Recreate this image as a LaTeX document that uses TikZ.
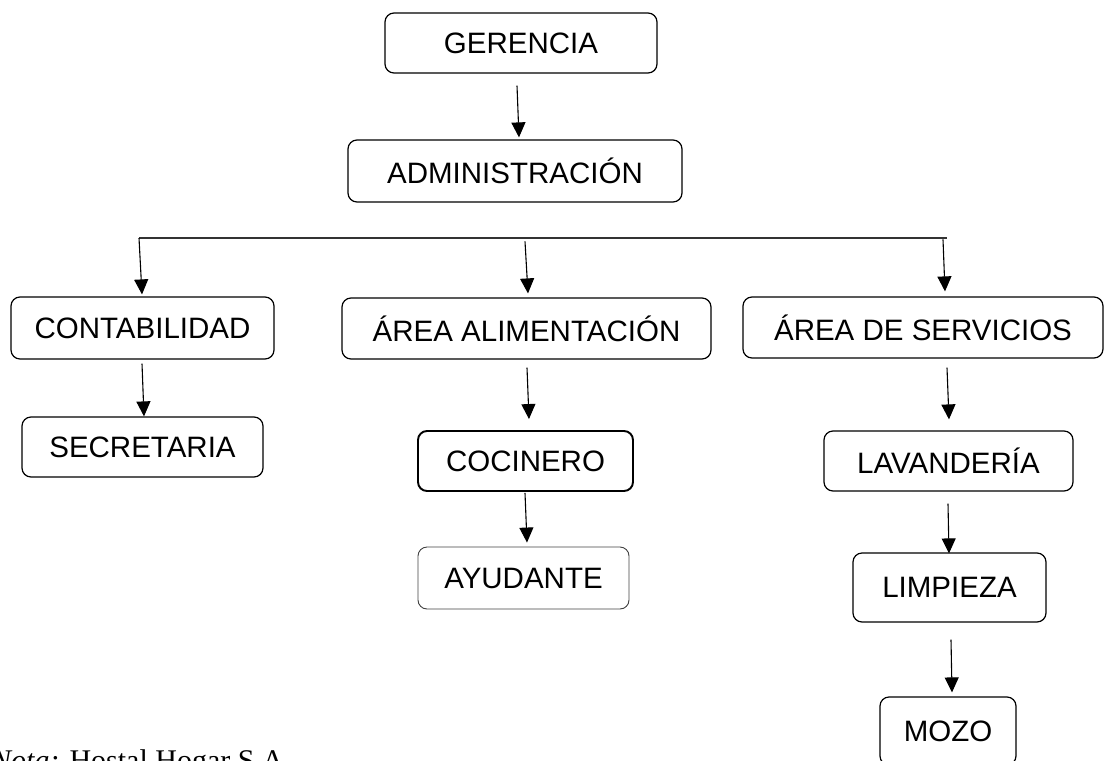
\documentclass[tikz,border=0pt]{standalone}
\usepackage{fontspec}
\setmainfont{Liberation Sans}
\newfontfamily\notafont{Liberation Serif}
\usetikzlibrary{arrows.meta,calc}
\begin{document}
\begin{tikzpicture}[x=1pt,y=-1pt,
  box/.style={draw=black, line width=1.2pt, rounded corners=9pt, inner sep=0pt,
    font=\fontsize{29.5}{35}\selectfont},
  thickbox/.style={box, line width=1.9pt},
  thinbox/.style={box, draw=black!75, line width=0.9pt},
  arr/.style={line width=1.1pt, -{Triangle[width=14pt,length=15pt]}},
  hline/.style={line width=1.4pt, draw=black!80}]
\useasboundingbox (0,0) rectangle (1104,761);
% nodes
\node[box, minimum width=272pt, minimum height=60pt] (ger) at (521,43) {GERENCIA};
\node[box, minimum width=334pt, minimum height=62pt] (adm) at (515,171) {ADMINISTRACIÓN};
\node[box, minimum width=263pt, minimum height=62pt] (cont) at (142.5,328) {CONTABILIDAD};
\node[box, minimum width=369pt, minimum height=61pt] (ali) at (526.5,328.5) {ÁREA ALIMENTACIÓN};
\node[box, minimum width=360pt, minimum height=61pt] (serv) at (923,327.5) {ÁREA DE SERVICIOS};
\node[box, minimum width=241pt, minimum height=60pt] (sec) at (142.5,447) {SECRETARIA};
\node[thickbox, minimum width=215pt, minimum height=60pt] (coc) at (525.5,461) {COCINERO};
\node[thinbox, minimum width=211pt, minimum height=62pt] (ayu) at (523.5,578) {AYUDANTE};
\node[box, minimum width=249pt, minimum height=60pt] (lav) at (948.5,461) {LAVANDERÍA};
\node[box, minimum width=193pt, minimum height=69pt] (lim) at (949.5,587.5) {LIMPIEZA};
\node[box, minimum width=136pt, minimum height=68pt] (mozo) at (948,731) {MOZO};
\node[anchor=base west, inner sep=0pt, font=\notafont\fontsize{30}{36}\selectfont] (nota) at (-9,770) {\textit{Nota:} Hostal Hogar S.A.};
% horizontal line
\coordinate (hl) at (139,238);
\coordinate (hr) at (947,238);
\draw[hline] (hl) -- (hr);
% arrows
\draw[arr] ($(ger.south)+(-4,12)$) -- ($(adm.north)+(4,-2)$);
\draw[arr] (hl) -- ($(cont.north)+(-0.5,-2)$);
\draw[arr] ($(ali.north)+(-1.5,-56)$) -- ($(ali.north)+(1.5,-4)$);
\draw[arr] ($(serv.north)+(20,-57)$) -- ($(serv.north)+(22,-5)$);
\draw[arr] ($(cont.south)+(-0.5,4)$) -- ($(sec.north)+(1.5,0)$);
\draw[arr] ($(ali.south)+(0.5,8)$) -- ($(coc.north)+(3.5,-11)$);
\draw[arr] ($(coc.south)+(-0.5,1)$) -- ($(ayu.north)+(3.5,-4)$);
\draw[arr] ($(serv.south)+(24,9)$) -- ($(lav.north)+(0.5,-11)$);
\draw[arr] ($(lav.south)+(-0.5,12)$) -- ($(lim.north)+(-0.5,1)$);
\draw[arr] ($(lim.south)+(1.5,17)$) -- ($(mozo.north)+(4,-4)$);
\end{tikzpicture}
\end{document}
